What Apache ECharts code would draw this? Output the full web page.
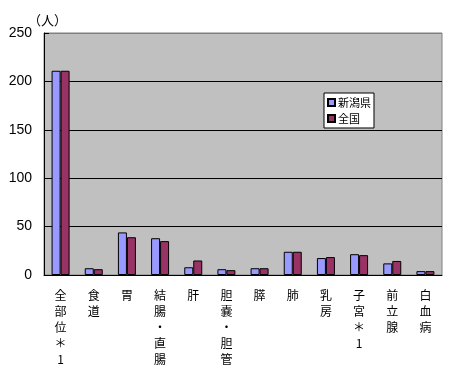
<!DOCTYPE html>
<html><head><meta charset="utf-8">
<script src="https://cdn.jsdelivr.net/npm/echarts@6/dist/echarts.min.js"></script>
<style>html,body{margin:0;padding:0;background:#fff}#c{width:455px;height:390px}</style>
</head><body><div id="c"></div>
<script>
var categories = ['全部位＊1','食道','胃','結腸・直腸','肝','胆嚢・胆管','膵','肺','乳房','子宮＊1','前立腺','白血病'];
var niigata = [211, 7, 44, 38, 8, 6, 7, 24, 17.5, 21.5, 12, 4];
var zenkoku = [211, 6, 39, 35, 15, 5, 7, 24, 18.5, 20.5, 14.5, 4];
var yTicks = [0, 50, 100, 150, 200, 250];
var seriesNames = ['新潟県', '全国'];

var font = '"Noto Sans CJK JP", sans-serif';
var chart = echarts.init(document.getElementById('c'), null, {renderer: 'canvas'});
chart.setOption({
  animation: false,
  backgroundColor: '#fff',
  title: {text: '（人）', left: 23, top: 9, textStyle: {fontSize: 13, fontWeight: 'normal', color: '#000', fontFamily: font}},
  grid: {left: 44, top: 33, right: 13, bottom: 115, show: true, backgroundColor: '#c0c0c0', borderColor: '#808080', borderWidth: 1},
  legend: {
    orient: 'vertical', left: 324, top: 93, data: seriesNames,
    backgroundColor: '#fff', borderColor: '#000', borderWidth: 1,
    padding: [4, 3, 4, 3], itemWidth: 7, itemHeight: 7, itemGap: 5, icon: 'rect',
    textStyle: {fontSize: 11, color: '#000', fontFamily: font, padding: [0, 0, 0, -2]}
  },
  xAxis: {
    type: 'category', data: categories,
    axisLine: {lineStyle: {color: '#000', width: 1}},
    axisTick: {inside: true, length: 5, lineStyle: {color: '#000'}},
    axisLabel: {
      interval: 0, margin: 12, color: '#000', fontSize: 12, lineHeight: 16, fontFamily: font,
      formatter: function (v) { return v.split('').join('\n'); }
    }
  },
  yAxis: {
    type: 'value', min: yTicks[0], max: yTicks[yTicks.length - 1], interval: yTicks[1] - yTicks[0],
    axisLine: {show: true, lineStyle: {color: '#000', width: 1}},
    axisTick: {show: true, inside: true, length: 5, lineStyle: {color: '#000'}},
    axisLabel: {margin: 12, color: '#000', fontSize: 14, fontFamily: '"Liberation Sans", Arial, sans-serif'},
    splitLine: {show: true, lineStyle: {color: ['#000', '#000', '#000', '#000', '#000', '#808080'], width: 1}}
  },
  series: [
    {name: seriesNames[0], type: 'bar', data: niigata, barWidth: 9, barGap: '0%',
     itemStyle: {color: '#9999ff', borderColor: '#000', borderWidth: 1}},
    {name: seriesNames[1], type: 'bar', data: zenkoku, barWidth: 9, barGap: '0%',
     itemStyle: {color: '#993366', borderColor: '#000', borderWidth: 1}}
  ]
});
</script></body></html>
